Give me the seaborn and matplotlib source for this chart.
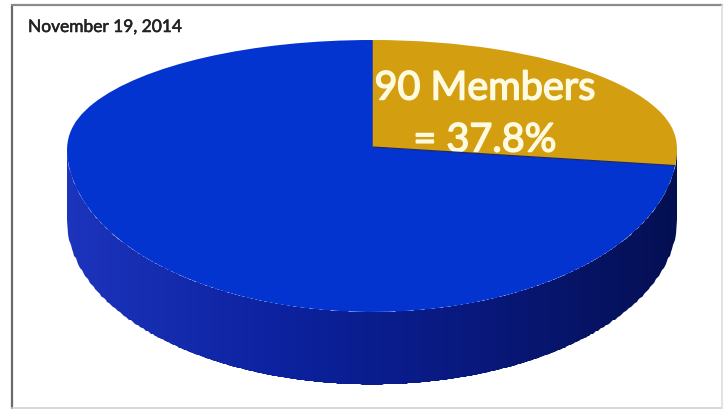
import numpy as np
import matplotlib
matplotlib.use("Agg")
import matplotlib.pyplot as plt
import matplotlib.patheffects as pe
from matplotlib.colors import LinearSegmentedColormap
from matplotlib.lines import Line2D
import seaborn as sns

# ---- data ----
categories = ["Members", "Other"]
slice_shares = [26.8, 73.2]          # drawn share of the pie (visual)
label_lines = ["90 Members", "= 37.8%"]
date_label = "November 19, 2014"
top_colors = ["#d39e0f", "#0434d0"]
side_colors = ["#1c34bc", "#0c22a0", "#08187c", "#040f52"]

sns.set_theme(style="white")
plt.rcParams["font.family"] = ["Lato", "DejaVu Sans"]

fig = plt.figure(figsize=(7.24, 4.11), dpi=100)
ax = fig.add_axes([0, 0, 1, 1])

# perspective-like squash: far half of the disc is compressed
k_far = 107 / 165
def fwd(y):
    y = np.asarray(y, dtype=float)
    return np.where(y >= 0, y * k_far, y)
def inv(s):
    s = np.asarray(s, dtype=float)
    return np.where(s >= 0, s / k_far, s)
ax.set_yscale("function", functions=(fwd, inv))

depth = 0.44
# side of the disc (front wall) with horizontal shading
xs = np.linspace(-1, 1, 500)
ytop = -np.sqrt(np.clip(1 - xs**2, 0, None))
X = np.vstack([xs, xs])
Y = np.vstack([ytop - depth, ytop])
C = ((xs[:-1] + xs[1:]) / 2).reshape(1, -1)
side_cmap = LinearSegmentedColormap.from_list("side", side_colors)
ax.pcolormesh(X, Y, C, cmap=side_cmap, shading="flat", vmin=-1, vmax=1,
              antialiased=True, linewidth=0, zorder=0.5)

# top face
wedges, _ = ax.pie(slice_shares, colors=top_colors, startangle=90,
                   counterclock=False, center=(0, 0), radius=1,
                   wedgeprops=dict(linewidth=0))
wedges[0].set_zorder(1)
wedges[1].set_zorder(3)

# thin dark line along the slice boundary
end_ang = np.deg2rad(90 - 360 * slice_shares[0] / sum(slice_shares))
ax.plot([0, np.cos(end_ang)], [0, np.sin(end_ang)], color="#1b2a70",
        lw=0.9, zorder=3.5, solid_capstyle="butt")
ax.plot([0, 0], [0, 1], color="#2a3aa0", lw=0.6, zorder=3.5)

ax.set_aspect("auto")
ax.set_xlim(-372 / 305, (724 - 372) / 305)
ax.set_ylim(-(411 - 147) / 165, (147 / 165) / k_far)
ax.axis("off")

# label in the gold slice (partly tucked under the blue slice)
txt_color = "#fffbe2"
ax.text(485 / 724, 1 - 114 / 411, "\n".join(label_lines), ha="center",
        va="center", fontsize=28.5, color=txt_color,
        linespacing=1.5, multialignment="center", transform=ax.transAxes,
        zorder=2,
        path_effects=[pe.Stroke(linewidth=1.1, foreground=txt_color), pe.Normal()])

fig.text(28 / 724, 1 - 27 / 411, date_label, ha="left", va="center",
         fontsize=12.5, color="#222222",
         path_effects=[pe.Stroke(linewidth=0.4, foreground="#222222"), pe.Normal()])

# chart frame
fig.add_artist(Line2D([11.5 / 724, 11.5 / 724], [1 - 5.5 / 411, 1 - 408 / 411],
                      transform=fig.transFigure, color="#6a6a6a", lw=1.6))
fig.add_artist(Line2D([11.5 / 724, 722 / 724], [1 - 5.5 / 411, 1 - 5.5 / 411],
                      transform=fig.transFigure, color="#8a8a8a", lw=1.6))
fig.add_artist(Line2D([11.5 / 724, 722 / 724], [1 - 408 / 411, 1 - 408 / 411],
                      transform=fig.transFigure, color="#d0d0d0", lw=1.2))
fig.add_artist(Line2D([722 / 724, 722 / 724], [1 - 5.5 / 411, 1 - 408 / 411],
                      transform=fig.transFigure, color="#dedede", lw=1.2))

fig.savefig("out.png", dpi=100, facecolor="white")
